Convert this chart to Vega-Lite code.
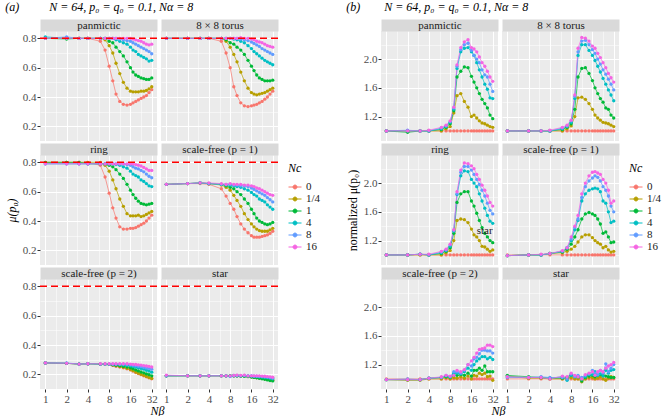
{
"$schema":"https://vega.github.io/schema/vega-lite/v6.json",
"padding":{"left":5,"top":1,"right":0,"bottom":0},
"config":{"font":"Liberation Serif, DejaVu Serif, serif","view":{"fill":"#EBEBEB","stroke":null},
"text":{"font":"Liberation Serif, DejaVu Serif, serif"},
"axis":{"domain":false,"tickColor":"#333333","tickSize":3,"tickWidth":1,"labelFont":"Liberation Serif, DejaVu Serif, serif","titleFont":"Liberation Serif, DejaVu Serif, serif","labelColor":"#4D4D4D","labelFontSize":11,"labelFontWeight":"normal","labelPadding":1,"gridColor":"#FFFFFF","titleFontWeight":"normal","titleFontSize":12,"titleColor":"#000000","titlePadding":4},
"title":{"font":"Liberation Serif, DejaVu Serif, serif","fontSize":12,"fontWeight":"normal","fontStyle":"italic","anchor":"start","frame":"bounds","color":"#000000","offset":5},
"legend":{"labelFont":"Liberation Serif, DejaVu Serif, serif","titleFont":"Liberation Serif, DejaVu Serif, serif","titleFontSize":12,"titleFontStyle":"italic","titleFontWeight":"normal","titleColor":"#000000","labelFontSize":11,"labelFontWeight":"normal","labelColor":"#1A1A1A","symbolType":"M-1,0L1,0M-0.3,0A0.3,0.3,0,1,1,0.3,0A0.3,0.3,0,1,1,-0.3,0","symbolSize":169,"symbolStrokeWidth":1,"offset":10,"padding":0,"rowPadding":0,"labelOffset":4,"titlePadding":5,"titleLineHeight":8}},
"datasets":{
"a1":[
{"c":"0","x":1,"y":0.8},{"c":"0","x":2,"y":0.8},{"c":"0","x":3,"y":0.8},{"c":"0","x":4,"y":0.8},{"c":"0","x":6,"y":0.78},{"c":"0","x":7,"y":0.72},{"c":"0","x":8,"y":0.61},{"c":"0","x":9,"y":0.51},{"c":"0","x":10,"y":0.42},{"c":"0","x":11.3,"y":0.37},{"c":"0","x":12.7,"y":0.35},{"c":"0","x":14.3,"y":0.345},{"c":"0","x":16,"y":0.35},{"c":"0","x":17.4,"y":0.36},{"c":"0","x":19,"y":0.37},{"c":"0","x":20.7,"y":0.38},{"c":"0","x":22.6,"y":0.39},{"c":"0","x":24.7,"y":0.4},{"c":"0","x":26.9,"y":0.41},{"c":"0","x":29.3,"y":0.43},{"c":"0","x":32,"y":0.45},
{"c":"1/4","x":1,"y":0.8},{"c":"1/4","x":2,"y":0.8},{"c":"1/4","x":3,"y":0.8},{"c":"1/4","x":4,"y":0.8},{"c":"1/4","x":6,"y":0.8},{"c":"1/4","x":7,"y":0.79},{"c":"1/4","x":8,"y":0.75},{"c":"1/4","x":9,"y":0.7},{"c":"1/4","x":10,"y":0.63},{"c":"1/4","x":11.3,"y":0.56},{"c":"1/4","x":12.7,"y":0.5},{"c":"1/4","x":14.3,"y":0.46},{"c":"1/4","x":16,"y":0.44},{"c":"1/4","x":17.4,"y":0.435},{"c":"1/4","x":19,"y":0.435},{"c":"1/4","x":20.7,"y":0.435},{"c":"1/4","x":22.6,"y":0.44},{"c":"1/4","x":24.7,"y":0.44},{"c":"1/4","x":26.9,"y":0.445},{"c":"1/4","x":29.3,"y":0.455},{"c":"1/4","x":32,"y":0.47},
{"c":"1","x":1,"y":0.8},{"c":"1","x":2,"y":0.795},{"c":"1","x":3,"y":0.8},{"c":"1","x":4,"y":0.8},{"c":"1","x":6,"y":0.8},{"c":"1","x":7,"y":0.8},{"c":"1","x":8,"y":0.78},{"c":"1","x":9,"y":0.77},{"c":"1","x":10,"y":0.74},{"c":"1","x":11.3,"y":0.71},{"c":"1","x":12.7,"y":0.68},{"c":"1","x":14.3,"y":0.64},{"c":"1","x":16,"y":0.6},{"c":"1","x":17.4,"y":0.57},{"c":"1","x":19,"y":0.55},{"c":"1","x":20.7,"y":0.54},{"c":"1","x":22.6,"y":0.53},{"c":"1","x":24.7,"y":0.525},{"c":"1","x":26.9,"y":0.52},{"c":"1","x":29.3,"y":0.52},{"c":"1","x":32,"y":0.53},
{"c":"4","x":1,"y":0.81},{"c":"4","x":2,"y":0.8},{"c":"4","x":3,"y":0.8},{"c":"4","x":4,"y":0.8},{"c":"4","x":6,"y":0.8},{"c":"4","x":7,"y":0.8},{"c":"4","x":8,"y":0.8},{"c":"4","x":9,"y":0.8},{"c":"4","x":10,"y":0.79},{"c":"4","x":11.3,"y":0.78},{"c":"4","x":12.7,"y":0.77},{"c":"4","x":14.3,"y":0.76},{"c":"4","x":16,"y":0.74},{"c":"4","x":17.4,"y":0.72},{"c":"4","x":19,"y":0.71},{"c":"4","x":20.7,"y":0.69},{"c":"4","x":22.6,"y":0.68},{"c":"4","x":24.7,"y":0.67},{"c":"4","x":26.9,"y":0.66},{"c":"4","x":29.3,"y":0.645},{"c":"4","x":32,"y":0.65},
{"c":"8","x":1,"y":0.8},{"c":"8","x":2,"y":0.81},{"c":"8","x":3,"y":0.8},{"c":"8","x":4,"y":0.8},{"c":"8","x":6,"y":0.8},{"c":"8","x":7,"y":0.8},{"c":"8","x":8,"y":0.8},{"c":"8","x":9,"y":0.8},{"c":"8","x":10,"y":0.8},{"c":"8","x":11.3,"y":0.795},{"c":"8","x":12.7,"y":0.79},{"c":"8","x":14.3,"y":0.785},{"c":"8","x":16,"y":0.78},{"c":"8","x":17.4,"y":0.77},{"c":"8","x":19,"y":0.76},{"c":"8","x":20.7,"y":0.75},{"c":"8","x":22.6,"y":0.74},{"c":"8","x":24.7,"y":0.73},{"c":"8","x":26.9,"y":0.72},{"c":"8","x":29.3,"y":0.71},{"c":"8","x":32,"y":0.695},
{"c":"16","x":1,"y":0.8},{"c":"16","x":2,"y":0.8},{"c":"16","x":3,"y":0.8},{"c":"16","x":4,"y":0.8},{"c":"16","x":6,"y":0.8},{"c":"16","x":7,"y":0.8},{"c":"16","x":8,"y":0.8},{"c":"16","x":9,"y":0.8},{"c":"16","x":10,"y":0.8},{"c":"16","x":11.3,"y":0.8},{"c":"16","x":12.7,"y":0.8},{"c":"16","x":14.3,"y":0.8},{"c":"16","x":16,"y":0.8},{"c":"16","x":17.4,"y":0.795},{"c":"16","x":19,"y":0.79},{"c":"16","x":20.7,"y":0.785},{"c":"16","x":22.6,"y":0.78},{"c":"16","x":24.7,"y":0.77},{"c":"16","x":26.9,"y":0.76},{"c":"16","x":29.3,"y":0.755},{"c":"16","x":32,"y":0.76}],
"a2":[
{"c":"0","x":1,"y":0.8},{"c":"0","x":2,"y":0.8},{"c":"0","x":3,"y":0.8},{"c":"0","x":4,"y":0.8},{"c":"0","x":6,"y":0.78},{"c":"0","x":7,"y":0.7},{"c":"0","x":8,"y":0.6},{"c":"0","x":9,"y":0.47},{"c":"0","x":10,"y":0.41},{"c":"0","x":11.3,"y":0.36},{"c":"0","x":12.7,"y":0.34},{"c":"0","x":14.3,"y":0.335},{"c":"0","x":16,"y":0.34},{"c":"0","x":17.4,"y":0.345},{"c":"0","x":19,"y":0.35},{"c":"0","x":20.7,"y":0.36},{"c":"0","x":22.6,"y":0.37},{"c":"0","x":24.7,"y":0.385},{"c":"0","x":26.9,"y":0.4},{"c":"0","x":29.3,"y":0.42},{"c":"0","x":32,"y":0.44},
{"c":"1/4","x":1,"y":0.8},{"c":"1/4","x":2,"y":0.8},{"c":"1/4","x":3,"y":0.8},{"c":"1/4","x":4,"y":0.8},{"c":"1/4","x":6,"y":0.8},{"c":"1/4","x":7,"y":0.78},{"c":"1/4","x":8,"y":0.74},{"c":"1/4","x":9,"y":0.69},{"c":"1/4","x":10,"y":0.64},{"c":"1/4","x":11.3,"y":0.57},{"c":"1/4","x":12.7,"y":0.51},{"c":"1/4","x":14.3,"y":0.46},{"c":"1/4","x":16,"y":0.43},{"c":"1/4","x":17.4,"y":0.42},{"c":"1/4","x":19,"y":0.415},{"c":"1/4","x":20.7,"y":0.42},{"c":"1/4","x":22.6,"y":0.425},{"c":"1/4","x":24.7,"y":0.43},{"c":"1/4","x":26.9,"y":0.44},{"c":"1/4","x":29.3,"y":0.45},{"c":"1/4","x":32,"y":0.46},
{"c":"1","x":1,"y":0.8},{"c":"1","x":2,"y":0.8},{"c":"1","x":3,"y":0.8},{"c":"1","x":4,"y":0.8},{"c":"1","x":6,"y":0.8},{"c":"1","x":7,"y":0.79},{"c":"1","x":8,"y":0.77},{"c":"1","x":9,"y":0.76},{"c":"1","x":10,"y":0.74},{"c":"1","x":11.3,"y":0.72},{"c":"1","x":12.7,"y":0.69},{"c":"1","x":14.3,"y":0.65},{"c":"1","x":16,"y":0.61},{"c":"1","x":17.4,"y":0.58},{"c":"1","x":19,"y":0.55},{"c":"1","x":20.7,"y":0.53},{"c":"1","x":22.6,"y":0.52},{"c":"1","x":24.7,"y":0.51},{"c":"1","x":26.9,"y":0.51},{"c":"1","x":29.3,"y":0.51},{"c":"1","x":32,"y":0.515},
{"c":"4","x":1,"y":0.8},{"c":"4","x":2,"y":0.8},{"c":"4","x":3,"y":0.8},{"c":"4","x":4,"y":0.8},{"c":"4","x":6,"y":0.8},{"c":"4","x":7,"y":0.8},{"c":"4","x":8,"y":0.8},{"c":"4","x":9,"y":0.795},{"c":"4","x":10,"y":0.79},{"c":"4","x":11.3,"y":0.78},{"c":"4","x":12.7,"y":0.77},{"c":"4","x":14.3,"y":0.75},{"c":"4","x":16,"y":0.73},{"c":"4","x":17.4,"y":0.71},{"c":"4","x":19,"y":0.695},{"c":"4","x":20.7,"y":0.68},{"c":"4","x":22.6,"y":0.665},{"c":"4","x":24.7,"y":0.65},{"c":"4","x":26.9,"y":0.64},{"c":"4","x":29.3,"y":0.63},{"c":"4","x":32,"y":0.62},
{"c":"8","x":1,"y":0.8},{"c":"8","x":2,"y":0.8},{"c":"8","x":3,"y":0.8},{"c":"8","x":4,"y":0.8},{"c":"8","x":6,"y":0.8},{"c":"8","x":7,"y":0.8},{"c":"8","x":8,"y":0.8},{"c":"8","x":9,"y":0.8},{"c":"8","x":10,"y":0.8},{"c":"8","x":11.3,"y":0.795},{"c":"8","x":12.7,"y":0.79},{"c":"8","x":14.3,"y":0.785},{"c":"8","x":16,"y":0.775},{"c":"8","x":17.4,"y":0.765},{"c":"8","x":19,"y":0.755},{"c":"8","x":20.7,"y":0.745},{"c":"8","x":22.6,"y":0.73},{"c":"8","x":24.7,"y":0.72},{"c":"8","x":26.9,"y":0.71},{"c":"8","x":29.3,"y":0.7},{"c":"8","x":32,"y":0.69},
{"c":"16","x":1,"y":0.8},{"c":"16","x":2,"y":0.8},{"c":"16","x":3,"y":0.8},{"c":"16","x":4,"y":0.8},{"c":"16","x":6,"y":0.8},{"c":"16","x":7,"y":0.8},{"c":"16","x":8,"y":0.8},{"c":"16","x":9,"y":0.8},{"c":"16","x":10,"y":0.8},{"c":"16","x":11.3,"y":0.805},{"c":"16","x":12.7,"y":0.8},{"c":"16","x":14.3,"y":0.8},{"c":"16","x":16,"y":0.795},{"c":"16","x":17.4,"y":0.79},{"c":"16","x":19,"y":0.78},{"c":"16","x":20.7,"y":0.775},{"c":"16","x":22.6,"y":0.77},{"c":"16","x":24.7,"y":0.76},{"c":"16","x":26.9,"y":0.75},{"c":"16","x":29.3,"y":0.745},{"c":"16","x":32,"y":0.74}],
"a3":[
{"c":"0","x":1,"y":0.8},{"c":"0","x":2,"y":0.8},{"c":"0","x":3,"y":0.8},{"c":"0","x":4,"y":0.8},{"c":"0","x":6,"y":0.78},{"c":"0","x":7,"y":0.7},{"c":"0","x":8,"y":0.59},{"c":"0","x":9,"y":0.49},{"c":"0","x":10,"y":0.42},{"c":"0","x":11.3,"y":0.36},{"c":"0","x":12.7,"y":0.345},{"c":"0","x":14.3,"y":0.345},{"c":"0","x":16,"y":0.35},{"c":"0","x":17.4,"y":0.35},{"c":"0","x":19,"y":0.355},{"c":"0","x":20.7,"y":0.365},{"c":"0","x":22.6,"y":0.375},{"c":"0","x":24.7,"y":0.385},{"c":"0","x":26.9,"y":0.4},{"c":"0","x":29.3,"y":0.42},{"c":"0","x":32,"y":0.44},
{"c":"1/4","x":1,"y":0.8},{"c":"1/4","x":2,"y":0.8},{"c":"1/4","x":3,"y":0.8},{"c":"1/4","x":4,"y":0.8},{"c":"1/4","x":6,"y":0.8},{"c":"1/4","x":7,"y":0.78},{"c":"1/4","x":8,"y":0.74},{"c":"1/4","x":9,"y":0.68},{"c":"1/4","x":10,"y":0.62},{"c":"1/4","x":11.3,"y":0.55},{"c":"1/4","x":12.7,"y":0.5},{"c":"1/4","x":14.3,"y":0.45},{"c":"1/4","x":16,"y":0.435},{"c":"1/4","x":17.4,"y":0.435},{"c":"1/4","x":19,"y":0.435},{"c":"1/4","x":20.7,"y":0.44},{"c":"1/4","x":22.6,"y":0.43},{"c":"1/4","x":24.7,"y":0.435},{"c":"1/4","x":26.9,"y":0.445},{"c":"1/4","x":29.3,"y":0.455},{"c":"1/4","x":32,"y":0.465},
{"c":"1","x":1,"y":0.8},{"c":"1","x":2,"y":0.8},{"c":"1","x":3,"y":0.8},{"c":"1","x":4,"y":0.79},{"c":"1","x":6,"y":0.79},{"c":"1","x":7,"y":0.79},{"c":"1","x":8,"y":0.78},{"c":"1","x":9,"y":0.77},{"c":"1","x":10,"y":0.75},{"c":"1","x":11.3,"y":0.72},{"c":"1","x":12.7,"y":0.69},{"c":"1","x":14.3,"y":0.65},{"c":"1","x":16,"y":0.61},{"c":"1","x":17.4,"y":0.58},{"c":"1","x":19,"y":0.555},{"c":"1","x":20.7,"y":0.535},{"c":"1","x":22.6,"y":0.52},{"c":"1","x":24.7,"y":0.515},{"c":"1","x":26.9,"y":0.51},{"c":"1","x":29.3,"y":0.515},{"c":"1","x":32,"y":0.52},
{"c":"4","x":1,"y":0.79},{"c":"4","x":2,"y":0.79},{"c":"4","x":3,"y":0.79},{"c":"4","x":4,"y":0.79},{"c":"4","x":6,"y":0.79},{"c":"4","x":7,"y":0.79},{"c":"4","x":8,"y":0.79},{"c":"4","x":9,"y":0.79},{"c":"4","x":10,"y":0.785},{"c":"4","x":11.3,"y":0.78},{"c":"4","x":12.7,"y":0.77},{"c":"4","x":14.3,"y":0.76},{"c":"4","x":16,"y":0.74},{"c":"4","x":17.4,"y":0.72},{"c":"4","x":19,"y":0.71},{"c":"4","x":20.7,"y":0.7},{"c":"4","x":22.6,"y":0.68},{"c":"4","x":24.7,"y":0.67},{"c":"4","x":26.9,"y":0.655},{"c":"4","x":29.3,"y":0.64},{"c":"4","x":32,"y":0.635},
{"c":"8","x":1,"y":0.79},{"c":"8","x":2,"y":0.79},{"c":"8","x":3,"y":0.79},{"c":"8","x":4,"y":0.79},{"c":"8","x":6,"y":0.79},{"c":"8","x":7,"y":0.79},{"c":"8","x":8,"y":0.79},{"c":"8","x":9,"y":0.79},{"c":"8","x":10,"y":0.79},{"c":"8","x":11.3,"y":0.79},{"c":"8","x":12.7,"y":0.79},{"c":"8","x":14.3,"y":0.785},{"c":"8","x":16,"y":0.78},{"c":"8","x":17.4,"y":0.77},{"c":"8","x":19,"y":0.76},{"c":"8","x":20.7,"y":0.755},{"c":"8","x":22.6,"y":0.745},{"c":"8","x":24.7,"y":0.735},{"c":"8","x":26.9,"y":0.72},{"c":"8","x":29.3,"y":0.705},{"c":"8","x":32,"y":0.695},
{"c":"16","x":1,"y":0.79},{"c":"16","x":2,"y":0.79},{"c":"16","x":3,"y":0.79},{"c":"16","x":4,"y":0.79},{"c":"16","x":6,"y":0.79},{"c":"16","x":7,"y":0.79},{"c":"16","x":8,"y":0.79},{"c":"16","x":9,"y":0.79},{"c":"16","x":10,"y":0.79},{"c":"16","x":11.3,"y":0.79},{"c":"16","x":12.7,"y":0.79},{"c":"16","x":14.3,"y":0.79},{"c":"16","x":16,"y":0.79},{"c":"16","x":17.4,"y":0.79},{"c":"16","x":19,"y":0.785},{"c":"16","x":20.7,"y":0.78},{"c":"16","x":22.6,"y":0.775},{"c":"16","x":24.7,"y":0.765},{"c":"16","x":26.9,"y":0.755},{"c":"16","x":29.3,"y":0.745},{"c":"16","x":32,"y":0.745}],
"a4":[
{"c":"0","x":1,"y":0.65},{"c":"0","x":2,"y":0.655},{"c":"0","x":3,"y":0.655},{"c":"0","x":4,"y":0.65},{"c":"0","x":6,"y":0.62},{"c":"0","x":7,"y":0.57},{"c":"0","x":8,"y":0.52},{"c":"0","x":9,"y":0.48},{"c":"0","x":10,"y":0.43},{"c":"0","x":11.3,"y":0.38},{"c":"0","x":12.7,"y":0.345},{"c":"0","x":14.3,"y":0.32},{"c":"0","x":16,"y":0.3},{"c":"0","x":17.4,"y":0.29},{"c":"0","x":19,"y":0.29},{"c":"0","x":20.7,"y":0.29},{"c":"0","x":22.6,"y":0.295},{"c":"0","x":24.7,"y":0.3},{"c":"0","x":26.9,"y":0.305},{"c":"0","x":29.3,"y":0.315},{"c":"0","x":32,"y":0.33},
{"c":"1/4","x":1,"y":0.65},{"c":"1/4","x":2,"y":0.655},{"c":"1/4","x":3,"y":0.66},{"c":"1/4","x":4,"y":0.655},{"c":"1/4","x":6,"y":0.645},{"c":"1/4","x":7,"y":0.63},{"c":"1/4","x":8,"y":0.61},{"c":"1/4","x":9,"y":0.575},{"c":"1/4","x":10,"y":0.54},{"c":"1/4","x":11.3,"y":0.5},{"c":"1/4","x":12.7,"y":0.45},{"c":"1/4","x":14.3,"y":0.41},{"c":"1/4","x":16,"y":0.38},{"c":"1/4","x":17.4,"y":0.36},{"c":"1/4","x":19,"y":0.345},{"c":"1/4","x":20.7,"y":0.335},{"c":"1/4","x":22.6,"y":0.33},{"c":"1/4","x":24.7,"y":0.33},{"c":"1/4","x":26.9,"y":0.33},{"c":"1/4","x":29.3,"y":0.34},{"c":"1/4","x":32,"y":0.35},
{"c":"1","x":1,"y":0.65},{"c":"1","x":2,"y":0.655},{"c":"1","x":3,"y":0.66},{"c":"1","x":4,"y":0.655},{"c":"1","x":6,"y":0.65},{"c":"1","x":7,"y":0.64},{"c":"1","x":8,"y":0.63},{"c":"1","x":9,"y":0.62},{"c":"1","x":10,"y":0.6},{"c":"1","x":11.3,"y":0.58},{"c":"1","x":12.7,"y":0.55},{"c":"1","x":14.3,"y":0.52},{"c":"1","x":16,"y":0.48},{"c":"1","x":17.4,"y":0.45},{"c":"1","x":19,"y":0.42},{"c":"1","x":20.7,"y":0.4},{"c":"1","x":22.6,"y":0.39},{"c":"1","x":24.7,"y":0.38},{"c":"1","x":26.9,"y":0.375},{"c":"1","x":29.3,"y":0.38},{"c":"1","x":32,"y":0.39},
{"c":"4","x":1,"y":0.65},{"c":"4","x":2,"y":0.655},{"c":"4","x":3,"y":0.66},{"c":"4","x":4,"y":0.655},{"c":"4","x":6,"y":0.65},{"c":"4","x":7,"y":0.645},{"c":"4","x":8,"y":0.645},{"c":"4","x":9,"y":0.64},{"c":"4","x":10,"y":0.635},{"c":"4","x":11.3,"y":0.63},{"c":"4","x":12.7,"y":0.62},{"c":"4","x":14.3,"y":0.61},{"c":"4","x":16,"y":0.595},{"c":"4","x":17.4,"y":0.58},{"c":"4","x":19,"y":0.57},{"c":"4","x":20.7,"y":0.55},{"c":"4","x":22.6,"y":0.54},{"c":"4","x":24.7,"y":0.53},{"c":"4","x":26.9,"y":0.51},{"c":"4","x":29.3,"y":0.495},{"c":"4","x":32,"y":0.48},
{"c":"8","x":1,"y":0.65},{"c":"8","x":2,"y":0.655},{"c":"8","x":3,"y":0.66},{"c":"8","x":4,"y":0.655},{"c":"8","x":6,"y":0.65},{"c":"8","x":7,"y":0.65},{"c":"8","x":8,"y":0.65},{"c":"8","x":9,"y":0.645},{"c":"8","x":10,"y":0.645},{"c":"8","x":11.3,"y":0.64},{"c":"8","x":12.7,"y":0.64},{"c":"8","x":14.3,"y":0.635},{"c":"8","x":16,"y":0.625},{"c":"8","x":17.4,"y":0.615},{"c":"8","x":19,"y":0.605},{"c":"8","x":20.7,"y":0.595},{"c":"8","x":22.6,"y":0.585},{"c":"8","x":24.7,"y":0.575},{"c":"8","x":26.9,"y":0.56},{"c":"8","x":29.3,"y":0.545},{"c":"8","x":32,"y":0.53},
{"c":"16","x":1,"y":0.65},{"c":"16","x":2,"y":0.655},{"c":"16","x":3,"y":0.66},{"c":"16","x":4,"y":0.66},{"c":"16","x":6,"y":0.655},{"c":"16","x":7,"y":0.65},{"c":"16","x":8,"y":0.655},{"c":"16","x":9,"y":0.65},{"c":"16","x":10,"y":0.65},{"c":"16","x":11.3,"y":0.65},{"c":"16","x":12.7,"y":0.645},{"c":"16","x":14.3,"y":0.645},{"c":"16","x":16,"y":0.64},{"c":"16","x":17.4,"y":0.635},{"c":"16","x":19,"y":0.625},{"c":"16","x":20.7,"y":0.62},{"c":"16","x":22.6,"y":0.61},{"c":"16","x":24.7,"y":0.6},{"c":"16","x":26.9,"y":0.59},{"c":"16","x":29.3,"y":0.58},{"c":"16","x":32,"y":0.575}],
"a5":[
{"c":"0","x":1,"y":0.278},{"c":"0","x":2,"y":0.275},{"c":"0","x":3,"y":0.27},{"c":"0","x":4,"y":0.272},{"c":"0","x":6,"y":0.27},{"c":"0","x":7,"y":0.27},{"c":"0","x":8,"y":0.268},{"c":"0","x":9,"y":0.262},{"c":"0","x":10,"y":0.255},{"c":"0","x":11.3,"y":0.25},{"c":"0","x":12.7,"y":0.245},{"c":"0","x":14.3,"y":0.238},{"c":"0","x":16,"y":0.23},{"c":"0","x":17.4,"y":0.222},{"c":"0","x":19,"y":0.212},{"c":"0","x":20.7,"y":0.205},{"c":"0","x":22.6,"y":0.198},{"c":"0","x":24.7,"y":0.19},{"c":"0","x":26.9,"y":0.183},{"c":"0","x":29.3,"y":0.176},{"c":"0","x":32,"y":0.17},
{"c":"1/4","x":1,"y":0.278},{"c":"1/4","x":2,"y":0.275},{"c":"1/4","x":3,"y":0.27},{"c":"1/4","x":4,"y":0.272},{"c":"1/4","x":6,"y":0.27},{"c":"1/4","x":7,"y":0.27},{"c":"1/4","x":8,"y":0.268},{"c":"1/4","x":9,"y":0.263},{"c":"1/4","x":10,"y":0.258},{"c":"1/4","x":11.3,"y":0.253},{"c":"1/4","x":12.7,"y":0.248},{"c":"1/4","x":14.3,"y":0.24},{"c":"1/4","x":16,"y":0.233},{"c":"1/4","x":17.4,"y":0.225},{"c":"1/4","x":19,"y":0.216},{"c":"1/4","x":20.7,"y":0.208},{"c":"1/4","x":22.6,"y":0.2},{"c":"1/4","x":24.7,"y":0.193},{"c":"1/4","x":26.9,"y":0.186},{"c":"1/4","x":29.3,"y":0.178},{"c":"1/4","x":32,"y":0.172},
{"c":"1","x":1,"y":0.278},{"c":"1","x":2,"y":0.275},{"c":"1","x":3,"y":0.27},{"c":"1","x":4,"y":0.272},{"c":"1","x":6,"y":0.27},{"c":"1","x":7,"y":0.27},{"c":"1","x":8,"y":0.268},{"c":"1","x":9,"y":0.265},{"c":"1","x":10,"y":0.262},{"c":"1","x":11.3,"y":0.258},{"c":"1","x":12.7,"y":0.254},{"c":"1","x":14.3,"y":0.25},{"c":"1","x":16,"y":0.245},{"c":"1","x":17.4,"y":0.238},{"c":"1","x":19,"y":0.23},{"c":"1","x":20.7,"y":0.223},{"c":"1","x":22.6,"y":0.216},{"c":"1","x":24.7,"y":0.21},{"c":"1","x":26.9,"y":0.203},{"c":"1","x":29.3,"y":0.197},{"c":"1","x":32,"y":0.19},
{"c":"4","x":1,"y":0.278},{"c":"4","x":2,"y":0.275},{"c":"4","x":3,"y":0.27},{"c":"4","x":4,"y":0.272},{"c":"4","x":6,"y":0.27},{"c":"4","x":7,"y":0.27},{"c":"4","x":8,"y":0.27},{"c":"4","x":9,"y":0.268},{"c":"4","x":10,"y":0.267},{"c":"4","x":11.3,"y":0.266},{"c":"4","x":12.7,"y":0.264},{"c":"4","x":14.3,"y":0.262},{"c":"4","x":16,"y":0.258},{"c":"4","x":17.4,"y":0.254},{"c":"4","x":19,"y":0.25},{"c":"4","x":20.7,"y":0.245},{"c":"4","x":22.6,"y":0.24},{"c":"4","x":24.7,"y":0.235},{"c":"4","x":26.9,"y":0.228},{"c":"4","x":29.3,"y":0.222},{"c":"4","x":32,"y":0.215},
{"c":"8","x":1,"y":0.278},{"c":"8","x":2,"y":0.278},{"c":"8","x":3,"y":0.27},{"c":"8","x":4,"y":0.272},{"c":"8","x":6,"y":0.27},{"c":"8","x":7,"y":0.27},{"c":"8","x":8,"y":0.27},{"c":"8","x":9,"y":0.27},{"c":"8","x":10,"y":0.27},{"c":"8","x":11.3,"y":0.27},{"c":"8","x":12.7,"y":0.27},{"c":"8","x":14.3,"y":0.268},{"c":"8","x":16,"y":0.265},{"c":"8","x":17.4,"y":0.262},{"c":"8","x":19,"y":0.258},{"c":"8","x":20.7,"y":0.255},{"c":"8","x":22.6,"y":0.252},{"c":"8","x":24.7,"y":0.248},{"c":"8","x":26.9,"y":0.244},{"c":"8","x":29.3,"y":0.24},{"c":"8","x":32,"y":0.235},
{"c":"16","x":1,"y":0.278},{"c":"16","x":2,"y":0.275},{"c":"16","x":3,"y":0.27},{"c":"16","x":4,"y":0.272},{"c":"16","x":6,"y":0.272},{"c":"16","x":7,"y":0.272},{"c":"16","x":8,"y":0.272},{"c":"16","x":9,"y":0.272},{"c":"16","x":10,"y":0.272},{"c":"16","x":11.3,"y":0.272},{"c":"16","x":12.7,"y":0.272},{"c":"16","x":14.3,"y":0.272},{"c":"16","x":16,"y":0.27},{"c":"16","x":17.4,"y":0.268},{"c":"16","x":19,"y":0.267},{"c":"16","x":20.7,"y":0.265},{"c":"16","x":22.6,"y":0.263},{"c":"16","x":24.7,"y":0.26},{"c":"16","x":26.9,"y":0.257},{"c":"16","x":29.3,"y":0.254},{"c":"16","x":32,"y":0.25}],
"a6":[
{"c":"0","x":1,"y":0.19},{"c":"0","x":2,"y":0.19},{"c":"0","x":3,"y":0.19},{"c":"0","x":4,"y":0.19},{"c":"0","x":6,"y":0.19},{"c":"0","x":7,"y":0.19},{"c":"0","x":8,"y":0.19},{"c":"0","x":9,"y":0.19},{"c":"0","x":10,"y":0.19},{"c":"0","x":11.3,"y":0.188},{"c":"0","x":12.7,"y":0.188},{"c":"0","x":14.3,"y":0.185},{"c":"0","x":16,"y":0.183},{"c":"0","x":17.4,"y":0.18},{"c":"0","x":19,"y":0.177},{"c":"0","x":20.7,"y":0.175},{"c":"0","x":22.6,"y":0.172},{"c":"0","x":24.7,"y":0.17},{"c":"0","x":26.9,"y":0.167},{"c":"0","x":29.3,"y":0.163},{"c":"0","x":32,"y":0.16},
{"c":"1/4","x":1,"y":0.19},{"c":"1/4","x":2,"y":0.19},{"c":"1/4","x":3,"y":0.19},{"c":"1/4","x":4,"y":0.19},{"c":"1/4","x":6,"y":0.19},{"c":"1/4","x":7,"y":0.19},{"c":"1/4","x":8,"y":0.19},{"c":"1/4","x":9,"y":0.19},{"c":"1/4","x":10,"y":0.19},{"c":"1/4","x":11.3,"y":0.189},{"c":"1/4","x":12.7,"y":0.188},{"c":"1/4","x":14.3,"y":0.186},{"c":"1/4","x":16,"y":0.184},{"c":"1/4","x":17.4,"y":0.181},{"c":"1/4","x":19,"y":0.178},{"c":"1/4","x":20.7,"y":0.176},{"c":"1/4","x":22.6,"y":0.173},{"c":"1/4","x":24.7,"y":0.17},{"c":"1/4","x":26.9,"y":0.168},{"c":"1/4","x":29.3,"y":0.165},{"c":"1/4","x":32,"y":0.162},
{"c":"1","x":1,"y":0.19},{"c":"1","x":2,"y":0.19},{"c":"1","x":3,"y":0.19},{"c":"1","x":4,"y":0.19},{"c":"1","x":6,"y":0.19},{"c":"1","x":7,"y":0.19},{"c":"1","x":8,"y":0.19},{"c":"1","x":9,"y":0.19},{"c":"1","x":10,"y":0.19},{"c":"1","x":11.3,"y":0.188},{"c":"1","x":12.7,"y":0.187},{"c":"1","x":14.3,"y":0.185},{"c":"1","x":16,"y":0.182},{"c":"1","x":17.4,"y":0.179},{"c":"1","x":19,"y":0.176},{"c":"1","x":20.7,"y":0.173},{"c":"1","x":22.6,"y":0.17},{"c":"1","x":24.7,"y":0.166},{"c":"1","x":26.9,"y":0.162},{"c":"1","x":29.3,"y":0.158},{"c":"1","x":32,"y":0.155},
{"c":"4","x":1,"y":0.19},{"c":"4","x":2,"y":0.19},{"c":"4","x":3,"y":0.19},{"c":"4","x":4,"y":0.19},{"c":"4","x":6,"y":0.19},{"c":"4","x":7,"y":0.19},{"c":"4","x":8,"y":0.19},{"c":"4","x":9,"y":0.192},{"c":"4","x":10,"y":0.19},{"c":"4","x":11.3,"y":0.19},{"c":"4","x":12.7,"y":0.19},{"c":"4","x":14.3,"y":0.19},{"c":"4","x":16,"y":0.188},{"c":"4","x":17.4,"y":0.186},{"c":"4","x":19,"y":0.185},{"c":"4","x":20.7,"y":0.183},{"c":"4","x":22.6,"y":0.181},{"c":"4","x":24.7,"y":0.179},{"c":"4","x":26.9,"y":0.177},{"c":"4","x":29.3,"y":0.174},{"c":"4","x":32,"y":0.17},
{"c":"8","x":1,"y":0.19},{"c":"8","x":2,"y":0.19},{"c":"8","x":3,"y":0.19},{"c":"8","x":4,"y":0.19},{"c":"8","x":6,"y":0.19},{"c":"8","x":7,"y":0.19},{"c":"8","x":8,"y":0.185},{"c":"8","x":9,"y":0.19},{"c":"8","x":10,"y":0.192},{"c":"8","x":11.3,"y":0.19},{"c":"8","x":12.7,"y":0.193},{"c":"8","x":14.3,"y":0.19},{"c":"8","x":16,"y":0.19},{"c":"8","x":17.4,"y":0.188},{"c":"8","x":19,"y":0.187},{"c":"8","x":20.7,"y":0.186},{"c":"8","x":22.6,"y":0.185},{"c":"8","x":24.7,"y":0.183},{"c":"8","x":26.9,"y":0.181},{"c":"8","x":29.3,"y":0.178},{"c":"8","x":32,"y":0.175},
{"c":"16","x":1,"y":0.195},{"c":"16","x":2,"y":0.19},{"c":"16","x":3,"y":0.19},{"c":"16","x":4,"y":0.19},{"c":"16","x":6,"y":0.19},{"c":"16","x":7,"y":0.19},{"c":"16","x":8,"y":0.19},{"c":"16","x":9,"y":0.193},{"c":"16","x":10,"y":0.195},{"c":"16","x":11.3,"y":0.193},{"c":"16","x":12.7,"y":0.195},{"c":"16","x":14.3,"y":0.19},{"c":"16","x":16,"y":0.19},{"c":"16","x":17.4,"y":0.19},{"c":"16","x":19,"y":0.19},{"c":"16","x":20.7,"y":0.19},{"c":"16","x":22.6,"y":0.188},{"c":"16","x":24.7,"y":0.187},{"c":"16","x":26.9,"y":0.185},{"c":"16","x":29.3,"y":0.183},{"c":"16","x":32,"y":0.18}],
"b1":[
{"c":"0","x":1,"y":1},{"c":"0","x":2,"y":1},{"c":"0","x":3,"y":1},{"c":"0","x":4,"y":1},{"c":"0","x":6,"y":1},{"c":"0","x":7,"y":1},{"c":"0","x":8,"y":1},{"c":"0","x":9,"y":1},{"c":"0","x":10,"y":1},{"c":"0","x":11.3,"y":1},{"c":"0","x":12.7,"y":1},{"c":"0","x":14.3,"y":1},{"c":"0","x":16,"y":1},{"c":"0","x":17.4,"y":1},{"c":"0","x":19,"y":1},{"c":"0","x":20.7,"y":1},{"c":"0","x":22.6,"y":1},{"c":"0","x":24.7,"y":1},{"c":"0","x":26.9,"y":1},{"c":"0","x":29.3,"y":1},{"c":"0","x":32,"y":1},
{"c":"1/4","x":1,"y":1},{"c":"1/4","x":2,"y":1},{"c":"1/4","x":3,"y":1},{"c":"1/4","x":4,"y":1},{"c":"1/4","x":6,"y":1},{"c":"1/4","x":7,"y":1.03},{"c":"1/4","x":8,"y":1.06},{"c":"1/4","x":9,"y":1.25},{"c":"1/4","x":10,"y":1.49},{"c":"1/4","x":11.3,"y":1.52},{"c":"1/4","x":12.7,"y":1.41},{"c":"1/4","x":14.3,"y":1.33},{"c":"1/4","x":16,"y":1.2},{"c":"1/4","x":17.4,"y":1.22},{"c":"1/4","x":19,"y":1.18},{"c":"1/4","x":20.7,"y":1.14},{"c":"1/4","x":22.6,"y":1.11},{"c":"1/4","x":24.7,"y":1.1},{"c":"1/4","x":26.9,"y":1.08},{"c":"1/4","x":29.3,"y":1.06},{"c":"1/4","x":32,"y":1.05},
{"c":"1","x":1,"y":1},{"c":"1","x":2,"y":0.98},{"c":"1","x":3,"y":1},{"c":"1","x":4,"y":1},{"c":"1","x":6,"y":1.02},{"c":"1","x":7,"y":1.05},{"c":"1","x":8,"y":1.1},{"c":"1","x":9,"y":1.28},{"c":"1","x":10,"y":1.75},{"c":"1","x":11.3,"y":1.83},{"c":"1","x":12.7,"y":1.89},{"c":"1","x":14.3,"y":1.88},{"c":"1","x":16,"y":1.76},{"c":"1","x":17.4,"y":1.68},{"c":"1","x":19,"y":1.6},{"c":"1","x":20.7,"y":1.52},{"c":"1","x":22.6,"y":1.44},{"c":"1","x":24.7,"y":1.38},{"c":"1","x":26.9,"y":1.32},{"c":"1","x":29.3,"y":1.22},{"c":"1","x":32,"y":1.17},
{"c":"4","x":1,"y":1},{"c":"4","x":2,"y":1},{"c":"4","x":3,"y":1},{"c":"4","x":4,"y":1},{"c":"4","x":6,"y":1.03},{"c":"4","x":7,"y":1.06},{"c":"4","x":8,"y":1.12},{"c":"4","x":9,"y":1.3},{"c":"4","x":10,"y":1.87},{"c":"4","x":11.3,"y":2.1},{"c":"4","x":12.7,"y":2.15},{"c":"4","x":14.3,"y":2.16},{"c":"4","x":16,"y":2.1},{"c":"4","x":17.4,"y":2.05},{"c":"4","x":19,"y":1.95},{"c":"4","x":20.7,"y":1.85},{"c":"4","x":22.6,"y":1.75},{"c":"4","x":24.7,"y":1.65},{"c":"4","x":26.9,"y":1.58},{"c":"4","x":29.3,"y":1.46},{"c":"4","x":32,"y":1.45},
{"c":"8","x":1,"y":1},{"c":"8","x":2,"y":1.01},{"c":"8","x":3,"y":1},{"c":"8","x":4,"y":1},{"c":"8","x":6,"y":1.04},{"c":"8","x":7,"y":1.07},{"c":"8","x":8,"y":1.13},{"c":"8","x":9,"y":1.32},{"c":"8","x":10,"y":1.9},{"c":"8","x":11.3,"y":2.13},{"c":"8","x":12.7,"y":2.2},{"c":"8","x":14.3,"y":2.22},{"c":"8","x":16,"y":2.12},{"c":"8","x":17.4,"y":2.05},{"c":"8","x":19,"y":2},{"c":"8","x":20.7,"y":1.95},{"c":"8","x":22.6,"y":1.85},{"c":"8","x":24.7,"y":1.78},{"c":"8","x":26.9,"y":1.75},{"c":"8","x":29.3,"y":1.65},{"c":"8","x":32,"y":1.55},
{"c":"16","x":1,"y":1},{"c":"16","x":2,"y":1},{"c":"16","x":3,"y":1},{"c":"16","x":4,"y":1.01},{"c":"16","x":6,"y":1.05},{"c":"16","x":7,"y":1.08},{"c":"16","x":8,"y":1.14},{"c":"16","x":9,"y":1.33},{"c":"16","x":10,"y":1.92},{"c":"16","x":11.3,"y":2.16},{"c":"16","x":12.7,"y":2.24},{"c":"16","x":14.3,"y":2.27},{"c":"16","x":16,"y":2.16},{"c":"16","x":17.4,"y":2.14},{"c":"16","x":19,"y":2.1},{"c":"16","x":20.7,"y":2.03},{"c":"16","x":22.6,"y":1.95},{"c":"16","x":24.7,"y":1.9},{"c":"16","x":26.9,"y":1.83},{"c":"16","x":29.3,"y":1.75},{"c":"16","x":32,"y":1.69}],
"b2":[
{"c":"0","x":1,"y":1},{"c":"0","x":2,"y":1},{"c":"0","x":3,"y":1},{"c":"0","x":4,"y":1},{"c":"0","x":6,"y":1},{"c":"0","x":7,"y":1},{"c":"0","x":8,"y":1},{"c":"0","x":9,"y":1},{"c":"0","x":10,"y":1},{"c":"0","x":11.3,"y":1},{"c":"0","x":12.7,"y":1},{"c":"0","x":14.3,"y":1},{"c":"0","x":16,"y":1},{"c":"0","x":17.4,"y":1},{"c":"0","x":19,"y":1},{"c":"0","x":20.7,"y":1},{"c":"0","x":22.6,"y":1},{"c":"0","x":24.7,"y":1},{"c":"0","x":26.9,"y":1},{"c":"0","x":29.3,"y":1},{"c":"0","x":32,"y":1},
{"c":"1/4","x":1,"y":1},{"c":"1/4","x":2,"y":1},{"c":"1/4","x":3,"y":1},{"c":"1/4","x":4,"y":1},{"c":"1/4","x":6,"y":1},{"c":"1/4","x":7,"y":1.03},{"c":"1/4","x":8,"y":1.07},{"c":"1/4","x":9,"y":1.2},{"c":"1/4","x":10,"y":1.46},{"c":"1/4","x":11.3,"y":1.47},{"c":"1/4","x":12.7,"y":1.44},{"c":"1/4","x":14.3,"y":1.38},{"c":"1/4","x":16,"y":1.3},{"c":"1/4","x":17.4,"y":1.22},{"c":"1/4","x":19,"y":1.18},{"c":"1/4","x":20.7,"y":1.15},{"c":"1/4","x":22.6,"y":1.12},{"c":"1/4","x":24.7,"y":1.11},{"c":"1/4","x":26.9,"y":1.1},{"c":"1/4","x":29.3,"y":1.08},{"c":"1/4","x":32,"y":1.06},
{"c":"1","x":1,"y":1},{"c":"1","x":2,"y":1},{"c":"1","x":3,"y":1},{"c":"1","x":4,"y":1},{"c":"1","x":6,"y":1.02},{"c":"1","x":7,"y":1.05},{"c":"1","x":8,"y":1.1},{"c":"1","x":9,"y":1.3},{"c":"1","x":10,"y":1.75},{"c":"1","x":11.3,"y":1.87},{"c":"1","x":12.7,"y":1.88},{"c":"1","x":14.3,"y":1.8},{"c":"1","x":16,"y":1.7},{"c":"1","x":17.4,"y":1.6},{"c":"1","x":19,"y":1.52},{"c":"1","x":20.7,"y":1.45},{"c":"1","x":22.6,"y":1.4},{"c":"1","x":24.7,"y":1.32},{"c":"1","x":26.9,"y":1.3},{"c":"1","x":29.3,"y":1.22},{"c":"1","x":32,"y":1.18},
{"c":"4","x":1,"y":1},{"c":"4","x":2,"y":1},{"c":"4","x":3,"y":1},{"c":"4","x":4,"y":1},{"c":"4","x":6,"y":1.03},{"c":"4","x":7,"y":1.06},{"c":"4","x":8,"y":1.12},{"c":"4","x":9,"y":1.45},{"c":"4","x":10,"y":2.05},{"c":"4","x":11.3,"y":2.2},{"c":"4","x":12.7,"y":2.2},{"c":"4","x":14.3,"y":2.12},{"c":"4","x":16,"y":2.05},{"c":"4","x":17.4,"y":1.98},{"c":"4","x":19,"y":1.9},{"c":"4","x":20.7,"y":1.82},{"c":"4","x":22.6,"y":1.73},{"c":"4","x":24.7,"y":1.65},{"c":"4","x":26.9,"y":1.57},{"c":"4","x":29.3,"y":1.5},{"c":"4","x":32,"y":1.42},
{"c":"8","x":1,"y":1},{"c":"8","x":2,"y":1},{"c":"8","x":3,"y":1},{"c":"8","x":4,"y":1},{"c":"8","x":6,"y":1.04},{"c":"8","x":7,"y":1.07},{"c":"8","x":8,"y":1.14},{"c":"8","x":9,"y":1.48},{"c":"8","x":10,"y":2.1},{"c":"8","x":11.3,"y":2.25},{"c":"8","x":12.7,"y":2.26},{"c":"8","x":14.3,"y":2.2},{"c":"8","x":16,"y":2.13},{"c":"8","x":17.4,"y":2.08},{"c":"8","x":19,"y":2},{"c":"8","x":20.7,"y":1.93},{"c":"8","x":22.6,"y":1.85},{"c":"8","x":24.7,"y":1.79},{"c":"8","x":26.9,"y":1.72},{"c":"8","x":29.3,"y":1.65},{"c":"8","x":32,"y":1.57},
{"c":"16","x":1,"y":1},{"c":"16","x":2,"y":1},{"c":"16","x":3,"y":1},{"c":"16","x":4,"y":1.01},{"c":"16","x":6,"y":1.05},{"c":"16","x":7,"y":1.08},{"c":"16","x":8,"y":1.15},{"c":"16","x":9,"y":1.5},{"c":"16","x":10,"y":2.15},{"c":"16","x":11.3,"y":2.3},{"c":"16","x":12.7,"y":2.29},{"c":"16","x":14.3,"y":2.25},{"c":"16","x":16,"y":2.18},{"c":"16","x":17.4,"y":2.15},{"c":"16","x":19,"y":2.08},{"c":"16","x":20.7,"y":2.02},{"c":"16","x":22.6,"y":1.95},{"c":"16","x":24.7,"y":1.88},{"c":"16","x":26.9,"y":1.8},{"c":"16","x":29.3,"y":1.74},{"c":"16","x":32,"y":1.68}],
"b3":[
{"c":"0","x":1,"y":1},{"c":"0","x":2,"y":1},{"c":"0","x":3,"y":1},{"c":"0","x":4,"y":1},{"c":"0","x":6,"y":1},{"c":"0","x":7,"y":1},{"c":"0","x":8,"y":1},{"c":"0","x":9,"y":1},{"c":"0","x":10,"y":1},{"c":"0","x":11.3,"y":1},{"c":"0","x":12.7,"y":1},{"c":"0","x":14.3,"y":1},{"c":"0","x":16,"y":1},{"c":"0","x":17.4,"y":1},{"c":"0","x":19,"y":1},{"c":"0","x":20.7,"y":1},{"c":"0","x":22.6,"y":1},{"c":"0","x":24.7,"y":1},{"c":"0","x":26.9,"y":1},{"c":"0","x":29.3,"y":1},{"c":"0","x":32,"y":1},
{"c":"1/4","x":1,"y":1},{"c":"1/4","x":2,"y":1},{"c":"1/4","x":3,"y":1},{"c":"1/4","x":4,"y":1},{"c":"1/4","x":6,"y":1},{"c":"1/4","x":7,"y":1.03},{"c":"1/4","x":8,"y":1.06},{"c":"1/4","x":9,"y":1.2},{"c":"1/4","x":10,"y":1.48},{"c":"1/4","x":11.3,"y":1.5},{"c":"1/4","x":12.7,"y":1.49},{"c":"1/4","x":14.3,"y":1.45},{"c":"1/4","x":16,"y":1.36},{"c":"1/4","x":17.4,"y":1.28},{"c":"1/4","x":19,"y":1.25},{"c":"1/4","x":20.7,"y":1.2},{"c":"1/4","x":22.6,"y":1.12},{"c":"1/4","x":24.7,"y":1.11},{"c":"1/4","x":26.9,"y":1.08},{"c":"1/4","x":29.3,"y":1.05},{"c":"1/4","x":32,"y":1.07},
{"c":"1","x":1,"y":1},{"c":"1","x":2,"y":1},{"c":"1","x":3,"y":1.01},{"c":"1","x":4,"y":1},{"c":"1","x":6,"y":1.02},{"c":"1","x":7,"y":1.05},{"c":"1","x":8,"y":1.1},{"c":"1","x":9,"y":1.3},{"c":"1","x":10,"y":1.73},{"c":"1","x":11.3,"y":1.85},{"c":"1","x":12.7,"y":1.88},{"c":"1","x":14.3,"y":1.88},{"c":"1","x":16,"y":1.75},{"c":"1","x":17.4,"y":1.68},{"c":"1","x":19,"y":1.58},{"c":"1","x":20.7,"y":1.48},{"c":"1","x":22.6,"y":1.38},{"c":"1","x":24.7,"y":1.3},{"c":"1","x":26.9,"y":1.25},{"c":"1","x":29.3,"y":1.2},{"c":"1","x":32,"y":1.17},
{"c":"4","x":1,"y":1},{"c":"4","x":2,"y":1},{"c":"4","x":3,"y":1.01},{"c":"4","x":4,"y":1},{"c":"4","x":6,"y":1.03},{"c":"4","x":7,"y":1.06},{"c":"4","x":8,"y":1.12},{"c":"4","x":9,"y":1.33},{"c":"4","x":10,"y":1.84},{"c":"4","x":11.3,"y":2.1},{"c":"4","x":12.7,"y":2.17},{"c":"4","x":14.3,"y":2.16},{"c":"4","x":16,"y":2.05},{"c":"4","x":17.4,"y":2},{"c":"4","x":19,"y":1.95},{"c":"4","x":20.7,"y":1.85},{"c":"4","x":22.6,"y":1.75},{"c":"4","x":24.7,"y":1.65},{"c":"4","x":26.9,"y":1.55},{"c":"4","x":29.3,"y":1.47},{"c":"4","x":32,"y":1.44},
{"c":"8","x":1,"y":1},{"c":"8","x":2,"y":1},{"c":"8","x":3,"y":1.01},{"c":"8","x":4,"y":1},{"c":"8","x":6,"y":1.04},{"c":"8","x":7,"y":1.07},{"c":"8","x":8,"y":1.14},{"c":"8","x":9,"y":1.34},{"c":"8","x":10,"y":1.85},{"c":"8","x":11.3,"y":2.15},{"c":"8","x":12.7,"y":2.23},{"c":"8","x":14.3,"y":2.23},{"c":"8","x":16,"y":2.18},{"c":"8","x":17.4,"y":2.12},{"c":"8","x":19,"y":2.05},{"c":"8","x":20.7,"y":1.98},{"c":"8","x":22.6,"y":1.9},{"c":"8","x":24.7,"y":1.82},{"c":"8","x":26.9,"y":1.72},{"c":"8","x":29.3,"y":1.62},{"c":"8","x":32,"y":1.57},
{"c":"16","x":1,"y":1},{"c":"16","x":2,"y":1},{"c":"16","x":3,"y":1.01},{"c":"16","x":4,"y":1.01},{"c":"16","x":6,"y":1.05},{"c":"16","x":7,"y":1.08},{"c":"16","x":8,"y":1.15},{"c":"16","x":9,"y":1.35},{"c":"16","x":10,"y":1.88},{"c":"16","x":11.3,"y":2.18},{"c":"16","x":12.7,"y":2.28},{"c":"16","x":14.3,"y":2.27},{"c":"16","x":16,"y":2.24},{"c":"16","x":17.4,"y":2.2},{"c":"16","x":19,"y":2.12},{"c":"16","x":20.7,"y":2.05},{"c":"16","x":22.6,"y":1.97},{"c":"16","x":24.7,"y":1.9},{"c":"16","x":26.9,"y":1.82},{"c":"16","x":29.3,"y":1.73},{"c":"16","x":32,"y":1.68}],
"b4":[
{"c":"0","x":1,"y":1},{"c":"0","x":2,"y":1},{"c":"0","x":3,"y":1},{"c":"0","x":4,"y":1},{"c":"0","x":6,"y":1},{"c":"0","x":7,"y":1},{"c":"0","x":8,"y":1},{"c":"0","x":9,"y":1},{"c":"0","x":10,"y":1},{"c":"0","x":11.3,"y":1},{"c":"0","x":12.7,"y":1},{"c":"0","x":14.3,"y":1},{"c":"0","x":16,"y":1},{"c":"0","x":17.4,"y":1},{"c":"0","x":19,"y":1},{"c":"0","x":20.7,"y":1},{"c":"0","x":22.6,"y":1},{"c":"0","x":24.7,"y":1},{"c":"0","x":26.9,"y":1},{"c":"0","x":29.3,"y":1},{"c":"0","x":32,"y":1},
{"c":"1/4","x":1,"y":0.99},{"c":"1/4","x":2,"y":1},{"c":"1/4","x":3,"y":1},{"c":"1/4","x":4,"y":1.02},{"c":"1/4","x":6,"y":1.03},{"c":"1/4","x":7,"y":1.05},{"c":"1/4","x":8,"y":1.08},{"c":"1/4","x":9,"y":1.12},{"c":"1/4","x":10,"y":1.18},{"c":"1/4","x":11.3,"y":1.25},{"c":"1/4","x":12.7,"y":1.28},{"c":"1/4","x":14.3,"y":1.28},{"c":"1/4","x":16,"y":1.24},{"c":"1/4","x":17.4,"y":1.2},{"c":"1/4","x":19,"y":1.17},{"c":"1/4","x":20.7,"y":1.15},{"c":"1/4","x":22.6,"y":1.1},{"c":"1/4","x":24.7,"y":1.12},{"c":"1/4","x":26.9,"y":1.07},{"c":"1/4","x":29.3,"y":1.04},{"c":"1/4","x":32,"y":1.05},
{"c":"1","x":1,"y":0.99},{"c":"1","x":2,"y":1},{"c":"1","x":3,"y":1},{"c":"1","x":4,"y":1.02},{"c":"1","x":6,"y":1.04},{"c":"1","x":7,"y":1.08},{"c":"1","x":8,"y":1.15},{"c":"1","x":9,"y":1.25},{"c":"1","x":10,"y":1.35},{"c":"1","x":11.3,"y":1.5},{"c":"1","x":12.7,"y":1.57},{"c":"1","x":14.3,"y":1.59},{"c":"1","x":16,"y":1.57},{"c":"1","x":17.4,"y":1.55},{"c":"1","x":19,"y":1.5},{"c":"1","x":20.7,"y":1.43},{"c":"1","x":22.6,"y":1.3},{"c":"1","x":24.7,"y":1.32},{"c":"1","x":26.9,"y":1.25},{"c":"1","x":29.3,"y":1.17},{"c":"1","x":32,"y":1.18},
{"c":"4","x":1,"y":0.99},{"c":"4","x":2,"y":1},{"c":"4","x":3,"y":1},{"c":"4","x":4,"y":1.02},{"c":"4","x":6,"y":1.05},{"c":"4","x":7,"y":1.1},{"c":"4","x":8,"y":1.2},{"c":"4","x":9,"y":1.35},{"c":"4","x":10,"y":1.48},{"c":"4","x":11.3,"y":1.75},{"c":"4","x":12.7,"y":1.85},{"c":"4","x":14.3,"y":1.9},{"c":"4","x":16,"y":1.92},{"c":"4","x":17.4,"y":1.93},{"c":"4","x":19,"y":1.92},{"c":"4","x":20.7,"y":1.88},{"c":"4","x":22.6,"y":1.75},{"c":"4","x":24.7,"y":1.72},{"c":"4","x":26.9,"y":1.6},{"c":"4","x":29.3,"y":1.45},{"c":"4","x":32,"y":1.47},
{"c":"8","x":1,"y":0.99},{"c":"8","x":2,"y":1},{"c":"8","x":3,"y":1},{"c":"8","x":4,"y":1.02},{"c":"8","x":6,"y":1.05},{"c":"8","x":7,"y":1.1},{"c":"8","x":8,"y":1.22},{"c":"8","x":9,"y":1.38},{"c":"8","x":10,"y":1.5},{"c":"8","x":11.3,"y":1.8},{"c":"8","x":12.7,"y":1.95},{"c":"8","x":14.3,"y":2.03},{"c":"8","x":16,"y":2.07},{"c":"8","x":17.4,"y":2.1},{"c":"8","x":19,"y":2.08},{"c":"8","x":20.7,"y":2.03},{"c":"8","x":22.6,"y":1.95},{"c":"8","x":24.7,"y":1.9},{"c":"8","x":26.9,"y":1.82},{"c":"8","x":29.3,"y":1.68},{"c":"8","x":32,"y":1.6},
{"c":"16","x":1,"y":0.99},{"c":"16","x":2,"y":1},{"c":"16","x":3,"y":1.01},{"c":"16","x":4,"y":1.02},{"c":"16","x":6,"y":1.06},{"c":"16","x":7,"y":1.1},{"c":"16","x":8,"y":1.25},{"c":"16","x":9,"y":1.4},{"c":"16","x":10,"y":1.55},{"c":"16","x":11.3,"y":1.85},{"c":"16","x":12.7,"y":2},{"c":"16","x":14.3,"y":2.1},{"c":"16","x":16,"y":2.15},{"c":"16","x":17.4,"y":2.16},{"c":"16","x":19,"y":2.14},{"c":"16","x":20.7,"y":2.12},{"c":"16","x":22.6,"y":2.05},{"c":"16","x":24.7,"y":2},{"c":"16","x":26.9,"y":1.9},{"c":"16","x":29.3,"y":1.72},{"c":"16","x":32,"y":1.75}],
"b5":[
{"c":"0","x":1,"y":1},{"c":"0","x":2,"y":1},{"c":"0","x":3,"y":1},{"c":"0","x":4,"y":1},{"c":"0","x":6,"y":1},{"c":"0","x":7,"y":1},{"c":"0","x":8,"y":1},{"c":"0","x":9,"y":1},{"c":"0","x":10,"y":1},{"c":"0","x":11.3,"y":1},{"c":"0","x":12.7,"y":1},{"c":"0","x":14.3,"y":1},{"c":"0","x":16,"y":1},{"c":"0","x":17.4,"y":1},{"c":"0","x":19,"y":1},{"c":"0","x":20.7,"y":1},{"c":"0","x":22.6,"y":1},{"c":"0","x":24.7,"y":1},{"c":"0","x":26.9,"y":1},{"c":"0","x":29.3,"y":1},{"c":"0","x":32,"y":1},
{"c":"1/4","x":1,"y":0.99},{"c":"1/4","x":2,"y":0.98},{"c":"1/4","x":3,"y":0.98},{"c":"1/4","x":4,"y":1},{"c":"1/4","x":6,"y":1},{"c":"1/4","x":7,"y":1.02},{"c":"1/4","x":8,"y":1},{"c":"1/4","x":9,"y":1.02},{"c":"1/4","x":10,"y":1.01},{"c":"1/4","x":11.3,"y":1.03},{"c":"1/4","x":12.7,"y":1.01},{"c":"1/4","x":14.3,"y":1.04},{"c":"1/4","x":16,"y":1},{"c":"1/4","x":17.4,"y":1.05},{"c":"1/4","x":19,"y":1.04},{"c":"1/4","x":20.7,"y":1.08},{"c":"1/4","x":22.6,"y":1.06},{"c":"1/4","x":24.7,"y":1.08},{"c":"1/4","x":26.9,"y":1.03},{"c":"1/4","x":29.3,"y":1.04},{"c":"1/4","x":32,"y":0.98},
{"c":"1","x":1,"y":0.99},{"c":"1","x":2,"y":0.99},{"c":"1","x":3,"y":0.99},{"c":"1","x":4,"y":1.01},{"c":"1","x":6,"y":1.02},{"c":"1","x":7,"y":1.03},{"c":"1","x":8,"y":1.02},{"c":"1","x":9,"y":1.05},{"c":"1","x":10,"y":1.05},{"c":"1","x":11.3,"y":1.06},{"c":"1","x":12.7,"y":1.05},{"c":"1","x":14.3,"y":1.08},{"c":"1","x":16,"y":1.04},{"c":"1","x":17.4,"y":1.12},{"c":"1","x":19,"y":1.12},{"c":"1","x":20.7,"y":1.15},{"c":"1","x":22.6,"y":1.12},{"c":"1","x":24.7,"y":1.18},{"c":"1","x":26.9,"y":1.1},{"c":"1","x":29.3,"y":1.1},{"c":"1","x":32,"y":1.1},
{"c":"4","x":1,"y":0.99},{"c":"4","x":2,"y":0.99},{"c":"4","x":3,"y":0.99},{"c":"4","x":4,"y":1.01},{"c":"4","x":6,"y":1.02},{"c":"4","x":7,"y":1.04},{"c":"4","x":8,"y":1.03},{"c":"4","x":9,"y":1.08},{"c":"4","x":10,"y":1.08},{"c":"4","x":11.3,"y":1.07},{"c":"4","x":12.7,"y":1.1},{"c":"4","x":14.3,"y":1.15},{"c":"4","x":16,"y":1.12},{"c":"4","x":17.4,"y":1.2},{"c":"4","x":19,"y":1.25},{"c":"4","x":20.7,"y":1.28},{"c":"4","x":22.6,"y":1.31},{"c":"4","x":24.7,"y":1.31},{"c":"4","x":26.9,"y":1.28},{"c":"4","x":29.3,"y":1.3},{"c":"4","x":32,"y":1.27},
{"c":"8","x":1,"y":0.99},{"c":"8","x":2,"y":1},{"c":"8","x":3,"y":0.99},{"c":"8","x":4,"y":1.01},{"c":"8","x":6,"y":1.02},{"c":"8","x":7,"y":1.05},{"c":"8","x":8,"y":1.03},{"c":"8","x":9,"y":1.1},{"c":"8","x":10,"y":1.1},{"c":"8","x":11.3,"y":1.08},{"c":"8","x":12.7,"y":1.12},{"c":"8","x":14.3,"y":1.2},{"c":"8","x":16,"y":1.18},{"c":"8","x":17.4,"y":1.28},{"c":"8","x":19,"y":1.3},{"c":"8","x":20.7,"y":1.35},{"c":"8","x":22.6,"y":1.4},{"c":"8","x":24.7,"y":1.4},{"c":"8","x":26.9,"y":1.39},{"c":"8","x":29.3,"y":1.39},{"c":"8","x":32,"y":1.36},
{"c":"16","x":1,"y":0.99},{"c":"16","x":2,"y":0.99},{"c":"16","x":3,"y":0.99},{"c":"16","x":4,"y":1.01},{"c":"16","x":6,"y":1.03},{"c":"16","x":7,"y":1.05},{"c":"16","x":8,"y":1.04},{"c":"16","x":9,"y":1.05},{"c":"16","x":10,"y":1.12},{"c":"16","x":11.3,"y":1.1},{"c":"16","x":12.7,"y":1.13},{"c":"16","x":14.3,"y":1.2},{"c":"16","x":16,"y":1.25},{"c":"16","x":17.4,"y":1.3},{"c":"16","x":19,"y":1.36},{"c":"16","x":20.7,"y":1.41},{"c":"16","x":22.6,"y":1.42},{"c":"16","x":24.7,"y":1.43},{"c":"16","x":26.9,"y":1.47},{"c":"16","x":29.3,"y":1.47},{"c":"16","x":32,"y":1.45}],
"b6":[
{"c":"0","x":1,"y":1},{"c":"0","x":2,"y":1},{"c":"0","x":3,"y":1},{"c":"0","x":4,"y":1},{"c":"0","x":6,"y":1},{"c":"0","x":7,"y":1},{"c":"0","x":8,"y":1},{"c":"0","x":9,"y":1},{"c":"0","x":10,"y":1},{"c":"0","x":11.3,"y":1},{"c":"0","x":12.7,"y":1},{"c":"0","x":14.3,"y":1},{"c":"0","x":16,"y":1},{"c":"0","x":17.4,"y":1},{"c":"0","x":19,"y":1},{"c":"0","x":20.7,"y":1},{"c":"0","x":22.6,"y":1},{"c":"0","x":24.7,"y":1},{"c":"0","x":26.9,"y":1},{"c":"0","x":29.3,"y":1},{"c":"0","x":32,"y":1},
{"c":"1/4","x":1,"y":1.04},{"c":"1/4","x":2,"y":1.01},{"c":"1/4","x":3,"y":1.01},{"c":"1/4","x":4,"y":1},{"c":"1/4","x":6,"y":1},{"c":"1/4","x":7,"y":1},{"c":"1/4","x":8,"y":1.02},{"c":"1/4","x":9,"y":1},{"c":"1/4","x":10,"y":1},{"c":"1/4","x":11.3,"y":0.96},{"c":"1/4","x":12.7,"y":1},{"c":"1/4","x":14.3,"y":1.02},{"c":"1/4","x":16,"y":1.02},{"c":"1/4","x":17.4,"y":1},{"c":"1/4","x":19,"y":1.01},{"c":"1/4","x":20.7,"y":1.03},{"c":"1/4","x":22.6,"y":1},{"c":"1/4","x":24.7,"y":0.98},{"c":"1/4","x":26.9,"y":1.01},{"c":"1/4","x":29.3,"y":1.03},{"c":"1/4","x":32,"y":1.02},
{"c":"1","x":1,"y":1.05},{"c":"1","x":2,"y":1.03},{"c":"1","x":3,"y":1.02},{"c":"1","x":4,"y":1.01},{"c":"1","x":6,"y":1.01},{"c":"1","x":7,"y":1.02},{"c":"1","x":8,"y":1.05},{"c":"1","x":9,"y":1.03},{"c":"1","x":10,"y":1.03},{"c":"1","x":11.3,"y":0.97},{"c":"1","x":12.7,"y":1.02},{"c":"1","x":14.3,"y":1.04},{"c":"1","x":16,"y":1.05},{"c":"1","x":17.4,"y":1.03},{"c":"1","x":19,"y":1.05},{"c":"1","x":20.7,"y":1.06},{"c":"1","x":22.6,"y":1.05},{"c":"1","x":24.7,"y":1.04},{"c":"1","x":26.9,"y":1.03},{"c":"1","x":29.3,"y":1.02},{"c":"1","x":32,"y":1.02},
{"c":"4","x":1,"y":1.03},{"c":"4","x":2,"y":1.02},{"c":"4","x":3,"y":1.02},{"c":"4","x":4,"y":1.01},{"c":"4","x":6,"y":1.03},{"c":"4","x":7,"y":0.98},{"c":"4","x":8,"y":1.05},{"c":"4","x":9,"y":1.04},{"c":"4","x":10,"y":1.03},{"c":"4","x":11.3,"y":1},{"c":"4","x":12.7,"y":1.03},{"c":"4","x":14.3,"y":1.06},{"c":"4","x":16,"y":1.06},{"c":"4","x":17.4,"y":1.1},{"c":"4","x":19,"y":1.05},{"c":"4","x":20.7,"y":1.07},{"c":"4","x":22.6,"y":1.04},{"c":"4","x":24.7,"y":1.12},{"c":"4","x":26.9,"y":1.08},{"c":"4","x":29.3,"y":1.12},{"c":"4","x":32,"y":1.13},
{"c":"8","x":1,"y":1.02},{"c":"8","x":2,"y":1.02},{"c":"8","x":3,"y":1.03},{"c":"8","x":4,"y":1.02},{"c":"8","x":6,"y":1.02},{"c":"8","x":7,"y":1},{"c":"8","x":8,"y":1.07},{"c":"8","x":9,"y":1.03},{"c":"8","x":10,"y":1.05},{"c":"8","x":11.3,"y":1.02},{"c":"8","x":12.7,"y":1.05},{"c":"8","x":14.3,"y":1.07},{"c":"8","x":16,"y":1.12},{"c":"8","x":17.4,"y":1.08},{"c":"8","x":19,"y":1.06},{"c":"8","x":20.7,"y":1.12},{"c":"8","x":22.6,"y":1.08},{"c":"8","x":24.7,"y":1.21},{"c":"8","x":26.9,"y":1.1},{"c":"8","x":29.3,"y":1.15},{"c":"8","x":32,"y":1.2},
{"c":"16","x":1,"y":1.03},{"c":"16","x":2,"y":1.02},{"c":"16","x":3,"y":1.02},{"c":"16","x":4,"y":1},{"c":"16","x":6,"y":1.04},{"c":"16","x":7,"y":1.03},{"c":"16","x":8,"y":1.08},{"c":"16","x":9,"y":1.05},{"c":"16","x":10,"y":1.03},{"c":"16","x":11.3,"y":1},{"c":"16","x":12.7,"y":1.06},{"c":"16","x":14.3,"y":1.08},{"c":"16","x":16,"y":1.1},{"c":"16","x":17.4,"y":1.05},{"c":"16","x":19,"y":1.1},{"c":"16","x":20.7,"y":1.12},{"c":"16","x":22.6,"y":1.1},{"c":"16","x":24.7,"y":1.15},{"c":"16","x":26.9,"y":1.18},{"c":"16","x":29.3,"y":1.2},{"c":"16","x":32,"y":1.23}]
},
"spacing":25,
"align":"each",
"resolve":{"scale":{"color":"independent"}},
"hconcat":[
{"title":{"text":"(a)\u2003\u2003\u2002N = 64, p\u2080 = q\u2080 = 0.1, N\u03b1 = 8"},
 "columns":2,"align":"each","bounds":"flush","spacing":{"row":14,"column":4},
 "resolve":{"scale":{"color":"independent"}},
 "concat":[
  {"width":117,"height":110,"data":{"name":"a1"},
   "encoding":{"y":{"field":"y","type":"quantitative","scale":{"domain":[0.1,0.85],"nice":false,"zero":false},"axis":{"values":[0.2,0.3,0.4,0.5,0.6,0.7,0.8],"labelExpr":"indexof([0.2,0.4,0.6,0.8],datum.value)>=0?format(datum.value,'.1f'):''","tickOpacity":{"condition":{"test":"indexof([0.2,0.4,0.6,0.8],datum.value)>=0","value":1},"value":0},"gridWidth":{"condition":{"test":"indexof([0.2,0.4,0.6,0.8],datum.value)>=0","value":1},"value":0.5},"title":null}},
    "color":{"field":"c","type":"nominal","scale":{"domain":["0","1/4","1","4","8","16"],"range":["#F8766D","#B79F00","#00BA38","#00BFC4","#619CFF","#F564E3"]},"legend":null}},
   "layer":[
    {"mark":{"type":"line","strokeWidth":0.7},"encoding":{"x":{"field":"x","type":"quantitative","scale":{"type":"log","base":2,"domain":[0.84,38],"nice":false},"axis":{"values":[1,1.414,2,2.828,4,5.657,8,11.314,16,22.627,32],"labels":false,"ticks":false,"title":null,"gridWidth":{"condition":{"test":"indexof([1,2,4,8,16,32],datum.value)>=0","value":1},"value":0.5}}}}},
    {"mark":{"type":"point","filled":true,"size":11,"opacity":1},"encoding":{"x":{"field":"x","type":"quantitative","axis":{"orient":"top","domain":true,"domainColor":"#D9D9D9","domainWidth":12,"domainCap":"butt","offset":6,"ticks":false,"labels":false,"grid":false,"title":"panmictic","titleY":0,"titleBaseline":"middle","titleFontSize":11,"titleFontWeight":"normal","titleFont":"Liberation Serif, DejaVu Serif, serif","titleColor":"#1A1A1A"}}}},
    {"data":{"values":[{"y":0.8}]},"mark":{"type":"rule","strokeWidth":1.5,"strokeDash":[7,4]},"encoding":{"color":{"value":"#FF0000"}}}
   ],
   "resolve":{"axis":{"x":"independent"}}},
  {"width":117,"height":110,"data":{"name":"a2"},
   "encoding":{"y":{"field":"y","type":"quantitative","scale":{"domain":[0.1,0.85],"nice":false,"zero":false},"axis":{"values":[0.2,0.3,0.4,0.5,0.6,0.7,0.8],"labels":false,"ticks":false,"title":null,"gridWidth":{"condition":{"test":"indexof([0.2,0.4,0.6,0.8],datum.value)>=0","value":1},"value":0.5}}},
    "color":{"field":"c","type":"nominal","scale":{"domain":["0","1/4","1","4","8","16"],"range":["#F8766D","#B79F00","#00BA38","#00BFC4","#619CFF","#F564E3"]},"legend":null}},
   "layer":[
    {"mark":{"type":"line","strokeWidth":0.7},"encoding":{"x":{"field":"x","type":"quantitative","scale":{"type":"log","base":2,"domain":[0.84,38],"nice":false},"axis":{"values":[1,1.414,2,2.828,4,5.657,8,11.314,16,22.627,32],"labels":false,"ticks":false,"title":null,"gridWidth":{"condition":{"test":"indexof([1,2,4,8,16,32],datum.value)>=0","value":1},"value":0.5}}}}},
    {"mark":{"type":"point","filled":true,"size":11,"opacity":1},"encoding":{"x":{"field":"x","type":"quantitative","axis":{"orient":"top","domain":true,"domainColor":"#D9D9D9","domainWidth":12,"domainCap":"butt","offset":6,"ticks":false,"labels":false,"grid":false,"title":"8 \u00d7 8 torus","titleY":0,"titleBaseline":"middle","titleFontSize":11,"titleFontWeight":"normal","titleFont":"Liberation Serif, DejaVu Serif, serif","titleColor":"#1A1A1A"}}}},
    {"data":{"values":[{"y":0.8}]},"mark":{"type":"rule","strokeWidth":1.5,"strokeDash":[7,4]},"encoding":{"color":{"value":"#FF0000"}}}
   ],
   "resolve":{"axis":{"x":"independent"}}},
  {"width":117,"height":110,"data":{"name":"a3"},
   "encoding":{"y":{"field":"y","type":"quantitative","scale":{"domain":[0.1,0.85],"nice":false,"zero":false},"axis":{"values":[0.2,0.3,0.4,0.5,0.6,0.7,0.8],"labelExpr":"indexof([0.2,0.4,0.6,0.8],datum.value)>=0?format(datum.value,'.1f'):''","tickOpacity":{"condition":{"test":"indexof([0.2,0.4,0.6,0.8],datum.value)>=0","value":1},"value":0},"gridWidth":{"condition":{"test":"indexof([0.2,0.4,0.6,0.8],datum.value)>=0","value":1},"value":0.5},"title":"\u03bc(p\u2080)","titleFontStyle":"italic"}},
    "color":{"field":"c","type":"nominal","scale":{"domain":["0","1/4","1","4","8","16"],"range":["#F8766D","#B79F00","#00BA38","#00BFC4","#619CFF","#F564E3"]},"legend":null}},
   "layer":[
    {"mark":{"type":"line","strokeWidth":0.7},"encoding":{"x":{"field":"x","type":"quantitative","scale":{"type":"log","base":2,"domain":[0.84,38],"nice":false},"axis":{"values":[1,1.414,2,2.828,4,5.657,8,11.314,16,22.627,32],"labels":false,"ticks":false,"title":null,"gridWidth":{"condition":{"test":"indexof([1,2,4,8,16,32],datum.value)>=0","value":1},"value":0.5}}}}},
    {"mark":{"type":"point","filled":true,"size":11,"opacity":1},"encoding":{"x":{"field":"x","type":"quantitative","axis":{"orient":"top","domain":true,"domainColor":"#D9D9D9","domainWidth":12,"domainCap":"butt","offset":6,"ticks":false,"labels":false,"grid":false,"title":"ring","titleY":0,"titleBaseline":"middle","titleFontSize":11,"titleFontWeight":"normal","titleFont":"Liberation Serif, DejaVu Serif, serif","titleColor":"#1A1A1A"}}}},
    {"data":{"values":[{"y":0.8}]},"mark":{"type":"rule","strokeWidth":1.5,"strokeDash":[7,4]},"encoding":{"color":{"value":"#FF0000"}}}
   ],
   "resolve":{"axis":{"x":"independent"}}},
  {"width":117,"height":110,"data":{"name":"a4"},
   "encoding":{"y":{"field":"y","type":"quantitative","scale":{"domain":[0.1,0.85],"nice":false,"zero":false},"axis":{"values":[0.2,0.3,0.4,0.5,0.6,0.7,0.8],"labels":false,"ticks":false,"title":null,"gridWidth":{"condition":{"test":"indexof([0.2,0.4,0.6,0.8],datum.value)>=0","value":1},"value":0.5}}},
    "color":{"field":"c","type":"nominal","scale":{"domain":["0","1/4","1","4","8","16"],"range":["#F8766D","#B79F00","#00BA38","#00BFC4","#619CFF","#F564E3"]},"legend":{"title":["","Nc"]}}},
   "layer":[
    {"mark":{"type":"line","strokeWidth":0.7},"encoding":{"x":{"field":"x","type":"quantitative","scale":{"type":"log","base":2,"domain":[0.84,38],"nice":false},"axis":{"values":[1,1.414,2,2.828,4,5.657,8,11.314,16,22.627,32],"labels":false,"ticks":false,"title":null,"gridWidth":{"condition":{"test":"indexof([1,2,4,8,16,32],datum.value)>=0","value":1},"value":0.5}}}}},
    {"mark":{"type":"point","filled":true,"size":11,"opacity":1},"encoding":{"x":{"field":"x","type":"quantitative","axis":{"orient":"top","domain":true,"domainColor":"#D9D9D9","domainWidth":12,"domainCap":"butt","offset":6,"ticks":false,"labels":false,"grid":false,"title":"scale-free (p = 1)","titleY":0,"titleBaseline":"middle","titleFontSize":11,"titleFontWeight":"normal","titleFont":"Liberation Serif, DejaVu Serif, serif","titleColor":"#1A1A1A"}}}},
    {"data":{"values":[{"y":0.8}]},"mark":{"type":"rule","strokeWidth":1.5,"strokeDash":[7,4]},"encoding":{"color":{"value":"#FF0000"}}}
   ],
   "resolve":{"axis":{"x":"independent"}}},
  {"width":117,"height":110,"data":{"name":"a5"},
   "encoding":{"y":{"field":"y","type":"quantitative","scale":{"domain":[0.1,0.85],"nice":false,"zero":false},"axis":{"values":[0.2,0.3,0.4,0.5,0.6,0.7,0.8],"labelExpr":"indexof([0.2,0.4,0.6,0.8],datum.value)>=0?format(datum.value,'.1f'):''","tickOpacity":{"condition":{"test":"indexof([0.2,0.4,0.6,0.8],datum.value)>=0","value":1},"value":0},"gridWidth":{"condition":{"test":"indexof([0.2,0.4,0.6,0.8],datum.value)>=0","value":1},"value":0.5},"title":null}},
    "color":{"field":"c","type":"nominal","scale":{"domain":["0","1/4","1","4","8","16"],"range":["#F8766D","#B79F00","#00BA38","#00BFC4","#619CFF","#F564E3"]},"legend":null}},
   "layer":[
    {"mark":{"type":"line","strokeWidth":0.7},"encoding":{"x":{"field":"x","type":"quantitative","scale":{"type":"log","base":2,"domain":[0.84,38],"nice":false},"axis":{"values":[1,1.414,2,2.828,4,5.657,8,11.314,16,22.627,32],"labelExpr":"indexof([1,2,4,8,16,32],datum.value)>=0?datum.value+'':''","tickOpacity":{"condition":{"test":"indexof([1,2,4,8,16,32],datum.value)>=0","value":1},"value":0},"gridWidth":{"condition":{"test":"indexof([1,2,4,8,16,32],datum.value)>=0","value":1},"value":0.5},"title":"N\u03b2","titleFontStyle":"italic","titleAnchor":"end","titleAlign":"center","titlePadding":1}}}},
    {"mark":{"type":"point","filled":true,"size":11,"opacity":1},"encoding":{"x":{"field":"x","type":"quantitative","axis":{"orient":"top","domain":true,"domainColor":"#D9D9D9","domainWidth":12,"domainCap":"butt","offset":6,"ticks":false,"labels":false,"grid":false,"title":"scale-free (p = 2)","titleY":0,"titleBaseline":"middle","titleFontSize":11,"titleFontWeight":"normal","titleFont":"Liberation Serif, DejaVu Serif, serif","titleColor":"#1A1A1A"}}}},
    {"data":{"values":[{"y":0.8}]},"mark":{"type":"rule","strokeWidth":1.5,"strokeDash":[7,4]},"encoding":{"color":{"value":"#FF0000"}}}
   ],
   "resolve":{"axis":{"x":"independent"}}},
  {"width":117,"height":110,"data":{"name":"a6"},
   "encoding":{"y":{"field":"y","type":"quantitative","scale":{"domain":[0.1,0.85],"nice":false,"zero":false},"axis":{"values":[0.2,0.3,0.4,0.5,0.6,0.7,0.8],"labels":false,"ticks":false,"title":null,"gridWidth":{"condition":{"test":"indexof([0.2,0.4,0.6,0.8],datum.value)>=0","value":1},"value":0.5}}},
    "color":{"field":"c","type":"nominal","scale":{"domain":["0","1/4","1","4","8","16"],"range":["#F8766D","#B79F00","#00BA38","#00BFC4","#619CFF","#F564E3"]},"legend":null}},
   "layer":[
    {"mark":{"type":"line","strokeWidth":0.7},"encoding":{"x":{"field":"x","type":"quantitative","scale":{"type":"log","base":2,"domain":[0.84,38],"nice":false},"axis":{"values":[1,1.414,2,2.828,4,5.657,8,11.314,16,22.627,32],"labelExpr":"indexof([1,2,4,8,16,32],datum.value)>=0?datum.value+'':''","tickOpacity":{"condition":{"test":"indexof([1,2,4,8,16,32],datum.value)>=0","value":1},"value":0},"gridWidth":{"condition":{"test":"indexof([1,2,4,8,16,32],datum.value)>=0","value":1},"value":0.5},"title":null}}}},
    {"mark":{"type":"point","filled":true,"size":11,"opacity":1},"encoding":{"x":{"field":"x","type":"quantitative","axis":{"orient":"top","domain":true,"domainColor":"#D9D9D9","domainWidth":12,"domainCap":"butt","offset":6,"ticks":false,"labels":false,"grid":false,"title":"star","titleY":0,"titleBaseline":"middle","titleFontSize":11,"titleFontWeight":"normal","titleFont":"Liberation Serif, DejaVu Serif, serif","titleColor":"#1A1A1A"}}}},
    {"data":{"values":[{"y":0.8}]},"mark":{"type":"rule","strokeWidth":1.5,"strokeDash":[7,4]},"encoding":{"color":{"value":"#FF0000"}}}
   ],
   "resolve":{"axis":{"x":"independent"}}}
 ]},
{"title":{"text":"(b)\u2003\u2003N = 64, p\u2080 = q\u2080 = 0.1, N\u03b1 = 8"},
 "columns":2,"align":"each","bounds":"flush","spacing":{"row":14,"column":4},
 "resolve":{"scale":{"color":"independent"}},
 "concat":[
  {"width":117,"height":110,"data":{"name":"b1"},
   "encoding":{"y":{"field":"y","type":"quantitative","scale":{"domain":[0.86,2.39],"nice":false,"zero":false},"axis":{"values":[1,1.2,1.4,1.6,1.8,2,2.2],"labelExpr":"indexof([1.2,1.6,2],datum.value)>=0?format(datum.value,'.1f'):''","tickOpacity":{"condition":{"test":"indexof([1.2,1.6,2],datum.value)>=0","value":1},"value":0},"gridWidth":{"condition":{"test":"indexof([1.2,1.6,2],datum.value)>=0","value":1},"value":0.5},"title":null}},
    "color":{"field":"c","type":"nominal","scale":{"domain":["0","1/4","1","4","8","16"],"range":["#F8766D","#B79F00","#00BA38","#00BFC4","#619CFF","#F564E3"]},"legend":null}},
   "layer":[
    {"mark":{"type":"line","strokeWidth":0.7},"encoding":{"x":{"field":"x","type":"quantitative","scale":{"type":"log","base":2,"domain":[0.84,38],"nice":false},"axis":{"values":[1,1.414,2,2.828,4,5.657,8,11.314,16,22.627,32],"labels":false,"ticks":false,"title":null,"gridWidth":{"condition":{"test":"indexof([1,2,4,8,16,32],datum.value)>=0","value":1},"value":0.5}}}}},
    {"mark":{"type":"point","filled":true,"size":11,"opacity":1},"encoding":{"x":{"field":"x","type":"quantitative","axis":{"orient":"top","domain":true,"domainColor":"#D9D9D9","domainWidth":12,"domainCap":"butt","offset":6,"ticks":false,"labels":false,"grid":false,"title":"panmictic","titleY":0,"titleBaseline":"middle","titleFontSize":11,"titleFontWeight":"normal","titleFont":"Liberation Serif, DejaVu Serif, serif","titleColor":"#1A1A1A"}}}}
   ],
   "resolve":{"axis":{"x":"independent"}}},
  {"width":117,"height":110,"data":{"name":"b2"},
   "encoding":{"y":{"field":"y","type":"quantitative","scale":{"domain":[0.86,2.39],"nice":false,"zero":false},"axis":{"values":[1,1.2,1.4,1.6,1.8,2,2.2],"labels":false,"ticks":false,"title":null,"gridWidth":{"condition":{"test":"indexof([1.2,1.6,2],datum.value)>=0","value":1},"value":0.5}}},
    "color":{"field":"c","type":"nominal","scale":{"domain":["0","1/4","1","4","8","16"],"range":["#F8766D","#B79F00","#00BA38","#00BFC4","#619CFF","#F564E3"]},"legend":null}},
   "layer":[
    {"mark":{"type":"line","strokeWidth":0.7},"encoding":{"x":{"field":"x","type":"quantitative","scale":{"type":"log","base":2,"domain":[0.84,38],"nice":false},"axis":{"values":[1,1.414,2,2.828,4,5.657,8,11.314,16,22.627,32],"labels":false,"ticks":false,"title":null,"gridWidth":{"condition":{"test":"indexof([1,2,4,8,16,32],datum.value)>=0","value":1},"value":0.5}}}}},
    {"mark":{"type":"point","filled":true,"size":11,"opacity":1},"encoding":{"x":{"field":"x","type":"quantitative","axis":{"orient":"top","domain":true,"domainColor":"#D9D9D9","domainWidth":12,"domainCap":"butt","offset":6,"ticks":false,"labels":false,"grid":false,"title":"8 \u00d7 8 torus","titleY":0,"titleBaseline":"middle","titleFontSize":11,"titleFontWeight":"normal","titleFont":"Liberation Serif, DejaVu Serif, serif","titleColor":"#1A1A1A"}}}}
   ],
   "resolve":{"axis":{"x":"independent"}}},
  {"width":117,"height":110,"data":{"name":"b3"},
   "encoding":{"y":{"field":"y","type":"quantitative","scale":{"domain":[0.86,2.39],"nice":false,"zero":false},"axis":{"values":[1,1.2,1.4,1.6,1.8,2,2.2],"labelExpr":"indexof([1.2,1.6,2],datum.value)>=0?format(datum.value,'.1f'):''","tickOpacity":{"condition":{"test":"indexof([1.2,1.6,2],datum.value)>=0","value":1},"value":0},"gridWidth":{"condition":{"test":"indexof([1.2,1.6,2],datum.value)>=0","value":1},"value":0.5},"title":"normalized \u03bc(p\u2080)"}},
    "color":{"field":"c","type":"nominal","scale":{"domain":["0","1/4","1","4","8","16"],"range":["#F8766D","#B79F00","#00BA38","#00BFC4","#619CFF","#F564E3"]},"legend":null}},
   "layer":[
    {"mark":{"type":"line","strokeWidth":0.7},"encoding":{"x":{"field":"x","type":"quantitative","scale":{"type":"log","base":2,"domain":[0.84,38],"nice":false},"axis":{"values":[1,1.414,2,2.828,4,5.657,8,11.314,16,22.627,32],"labels":false,"ticks":false,"title":null,"gridWidth":{"condition":{"test":"indexof([1,2,4,8,16,32],datum.value)>=0","value":1},"value":0.5}}}}},
    {"mark":{"type":"point","filled":true,"size":11,"opacity":1},"encoding":{"x":{"field":"x","type":"quantitative","axis":{"orient":"top","domain":true,"domainColor":"#D9D9D9","domainWidth":12,"domainCap":"butt","offset":6,"ticks":false,"labels":false,"grid":false,"title":"ring","titleY":0,"titleBaseline":"middle","titleFontSize":11,"titleFontWeight":"normal","titleFont":"Liberation Serif, DejaVu Serif, serif","titleColor":"#1A1A1A"}}}},
    {"data":{"values":[{"x":24.6,"y":1.33,"t":"star"}]},"mark":{"type":"text","fontSize":11},"encoding":{"x":{"field":"x","type":"quantitative","axis":null},"text":{"field":"t"},"color":{"value":"#1A1A1A"}}}
   ],
   "resolve":{"axis":{"x":"independent"}}},
  {"width":117,"height":110,"data":{"name":"b4"},
   "encoding":{"y":{"field":"y","type":"quantitative","scale":{"domain":[0.86,2.39],"nice":false,"zero":false},"axis":{"values":[1,1.2,1.4,1.6,1.8,2,2.2],"labels":false,"ticks":false,"title":null,"gridWidth":{"condition":{"test":"indexof([1.2,1.6,2],datum.value)>=0","value":1},"value":0.5}}},
    "color":{"field":"c","type":"nominal","scale":{"domain":["0","1/4","1","4","8","16"],"range":["#F8766D","#B79F00","#00BA38","#00BFC4","#619CFF","#F564E3"]},"legend":{"title":["","Nc"]}}},
   "layer":[
    {"mark":{"type":"line","strokeWidth":0.7},"encoding":{"x":{"field":"x","type":"quantitative","scale":{"type":"log","base":2,"domain":[0.84,38],"nice":false},"axis":{"values":[1,1.414,2,2.828,4,5.657,8,11.314,16,22.627,32],"labels":false,"ticks":false,"title":null,"gridWidth":{"condition":{"test":"indexof([1,2,4,8,16,32],datum.value)>=0","value":1},"value":0.5}}}}},
    {"mark":{"type":"point","filled":true,"size":11,"opacity":1},"encoding":{"x":{"field":"x","type":"quantitative","axis":{"orient":"top","domain":true,"domainColor":"#D9D9D9","domainWidth":12,"domainCap":"butt","offset":6,"ticks":false,"labels":false,"grid":false,"title":"scale-free (p = 1)","titleY":0,"titleBaseline":"middle","titleFontSize":11,"titleFontWeight":"normal","titleFont":"Liberation Serif, DejaVu Serif, serif","titleColor":"#1A1A1A"}}}}
   ],
   "resolve":{"axis":{"x":"independent"}}},
  {"width":117,"height":110,"data":{"name":"b5"},
   "encoding":{"y":{"field":"y","type":"quantitative","scale":{"domain":[0.86,2.39],"nice":false,"zero":false},"axis":{"values":[1,1.2,1.4,1.6,1.8,2,2.2],"labelExpr":"indexof([1.2,1.6,2],datum.value)>=0?format(datum.value,'.1f'):''","tickOpacity":{"condition":{"test":"indexof([1.2,1.6,2],datum.value)>=0","value":1},"value":0},"gridWidth":{"condition":{"test":"indexof([1.2,1.6,2],datum.value)>=0","value":1},"value":0.5},"title":null}},
    "color":{"field":"c","type":"nominal","scale":{"domain":["0","1/4","1","4","8","16"],"range":["#F8766D","#B79F00","#00BA38","#00BFC4","#619CFF","#F564E3"]},"legend":null}},
   "layer":[
    {"mark":{"type":"line","strokeWidth":0.7},"encoding":{"x":{"field":"x","type":"quantitative","scale":{"type":"log","base":2,"domain":[0.84,38],"nice":false},"axis":{"values":[1,1.414,2,2.828,4,5.657,8,11.314,16,22.627,32],"labelExpr":"indexof([1,2,4,8,16,32],datum.value)>=0?datum.value+'':''","tickOpacity":{"condition":{"test":"indexof([1,2,4,8,16,32],datum.value)>=0","value":1},"value":0},"gridWidth":{"condition":{"test":"indexof([1,2,4,8,16,32],datum.value)>=0","value":1},"value":0.5},"title":"N\u03b2","titleFontStyle":"italic","titleAnchor":"end","titleAlign":"center","titlePadding":1}}}},
    {"mark":{"type":"point","filled":true,"size":11,"opacity":1},"encoding":{"x":{"field":"x","type":"quantitative","axis":{"orient":"top","domain":true,"domainColor":"#D9D9D9","domainWidth":12,"domainCap":"butt","offset":6,"ticks":false,"labels":false,"grid":false,"title":"scale-free (p = 2)","titleY":0,"titleBaseline":"middle","titleFontSize":11,"titleFontWeight":"normal","titleFont":"Liberation Serif, DejaVu Serif, serif","titleColor":"#1A1A1A"}}}}
   ],
   "resolve":{"axis":{"x":"independent"}}},
  {"width":117,"height":110,"data":{"name":"b6"},
   "encoding":{"y":{"field":"y","type":"quantitative","scale":{"domain":[0.86,2.39],"nice":false,"zero":false},"axis":{"values":[1,1.2,1.4,1.6,1.8,2,2.2],"labels":false,"ticks":false,"title":null,"gridWidth":{"condition":{"test":"indexof([1.2,1.6,2],datum.value)>=0","value":1},"value":0.5}}},
    "color":{"field":"c","type":"nominal","scale":{"domain":["0","1/4","1","4","8","16"],"range":["#F8766D","#B79F00","#00BA38","#00BFC4","#619CFF","#F564E3"]},"legend":null}},
   "layer":[
    {"mark":{"type":"line","strokeWidth":0.7},"encoding":{"x":{"field":"x","type":"quantitative","scale":{"type":"log","base":2,"domain":[0.84,38],"nice":false},"axis":{"values":[1,1.414,2,2.828,4,5.657,8,11.314,16,22.627,32],"labelExpr":"indexof([1,2,4,8,16,32],datum.value)>=0?datum.value+'':''","tickOpacity":{"condition":{"test":"indexof([1,2,4,8,16,32],datum.value)>=0","value":1},"value":0},"gridWidth":{"condition":{"test":"indexof([1,2,4,8,16,32],datum.value)>=0","value":1},"value":0.5},"title":null}}}},
    {"mark":{"type":"point","filled":true,"size":11,"opacity":1},"encoding":{"x":{"field":"x","type":"quantitative","axis":{"orient":"top","domain":true,"domainColor":"#D9D9D9","domainWidth":12,"domainCap":"butt","offset":6,"ticks":false,"labels":false,"grid":false,"title":"star","titleY":0,"titleBaseline":"middle","titleFontSize":11,"titleFontWeight":"normal","titleFont":"Liberation Serif, DejaVu Serif, serif","titleColor":"#1A1A1A"}}}}
   ],
   "resolve":{"axis":{"x":"independent"}}}
 ]}
]
}
